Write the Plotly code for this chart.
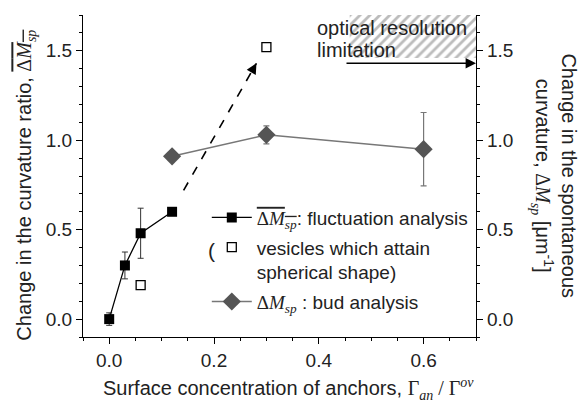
import plotly.graph_objects as go

# ---- data ----
fluct_x = [0.0, 0.03, 0.06, 0.12]
fluct_y = [0.0, 0.30, 0.48, 0.60]
fluct_err = [0.035, 0.075, 0.14, 0.0]

sph_x = [0.06, 0.30]
sph_y = [0.19, 1.52]

bud_x = [0.12, 0.30, 0.60]
bud_y = [0.91, 1.03, 0.95]
bud_err = [0.0, 0.05, 0.205]

trend_x = [0.142, 0.281]
trend_y = [0.72, 1.43]

limit_x = [0.459, 0.70, 0.70, 0.459]
limit_y = [1.46, 1.46, 1.70, 1.70]
limit_arrow_x = [0.45, 0.70]
limit_arrow_y = [1.43, 1.43]

x_ticks = [0.0, 0.2, 0.4, 0.6]
y_ticks = [0.0, 0.5, 1.0, 1.5]

FONT = "Liberation Sans, Arial, sans-serif"
SERIF = "Liberation Serif"
FS = 19
MSP = (f'<span style="font-family:{SERIF}">Δ<i>M</i><sub><i>sp</i></sub></span>')
MSP_OL = (f'<span style="font-family:{SERIF};text-decoration:overline">Δ<i>M</i>'
          f'<sub><i>sp</i></sub></span>')

fig = go.Figure()

# hatched region (optical resolution limitation)
fig.add_trace(go.Scatter(
    x=limit_x, y=limit_y, mode="lines", fill="toself",
    line=dict(width=0), fillcolor="rgba(0,0,0,0)",
    fillpattern=dict(shape="/", fgcolor="#7a7a7a", bgcolor="white", size=7, solidity=0.4),
    showlegend=False, hoverinfo="skip"))

# dashed trend arrow line
fig.add_trace(go.Scatter(
    x=trend_x, y=trend_y, mode="lines",
    line=dict(color="black", width=1.6, dash="dash"),
    showlegend=False, hoverinfo="skip"))

fig.add_trace(go.Scatter(
    x=fluct_x, y=fluct_y, mode="lines+markers",
    name=MSP_OL + ": fluctuation analysis",
    line=dict(color="black", width=1.3),
    marker=dict(symbol="square", size=10, color="black"),
    error_y=dict(type="data", array=fluct_err, color="#333", thickness=1, width=3),
    legendgroup="a"))

fig.add_trace(go.Scatter(
    x=sph_x, y=sph_y, mode="markers",
    name="vesicles which attain<br>spherical shape)",
    marker=dict(symbol="square-open", size=9, color="black", line=dict(width=1.3)),
    legendgroup="b"))

fig.add_trace(go.Scatter(
    x=bud_x, y=bud_y, mode="lines+markers", yaxis="y2",
    name=MSP + " : bud analysis",
    line=dict(color="#777", width=1.5),
    marker=dict(symbol="diamond", size=14, color="#555"),
    error_y=dict(type="data", array=bud_err, color="#777", thickness=1.2, width=3),
    legendgroup="c"))

axis_common = dict(
    showline=True, linecolor="black", linewidth=1.3,
    ticks="outside", ticklen=6, tickwidth=1.2, tickcolor="black",
    showgrid=False, zeroline=False,
    tickfont=dict(family=FONT, size=FS, color="#222"),
    tickformat=".1f",
)

fig.update_layout(
    width=584, height=404,
    margin=dict(l=83, r=108, t=15, b=67),
    paper_bgcolor="white", plot_bgcolor="white",
    font=dict(family=FONT, size=FS, color="#222"),
    xaxis=dict(range=[-0.05, 0.70], tickvals=x_ticks,
               minor=dict(dtick=0.05, ticks="outside", ticklen=3, tickcolor="black"),
               **axis_common),
    yaxis=dict(range=[-0.1, 1.7], tickvals=y_ticks,
               minor=dict(dtick=0.1, ticks="outside", ticklen=3, tickcolor="black"),
               **axis_common),
    yaxis2=dict(range=[-0.1, 1.7], tickvals=y_ticks, overlaying="y", side="right",
                minor=dict(dtick=0.1, ticks="outside", ticklen=3, tickcolor="black"),
                **axis_common),
    legend=dict(x=0.315, y=0.43, xanchor="left", yanchor="top",
                bgcolor="rgba(0,0,0,0)", borderwidth=0, valign="top",
                font=dict(family=FONT, size=FS, color="#222"),
                tracegroupgap=2, itemwidth=40),
    showlegend=True,
)

# axis titles
fig.add_annotation(
    text="Change in the curvature ratio, " + MSP_OL,
    xref="paper", yref="paper", x=-0.145, y=0.47, textangle=-90,
    showarrow=False, font=dict(size=FS + 1, color="#222"), xanchor="center", yanchor="middle")
fig.add_annotation(
    text="Change in the spontaneous<br>curvature, " + MSP + " [μm<sup>-1</sup>]",
    xref="paper", yref="paper", x=1.20, y=0.50, textangle=90,
    showarrow=False, font=dict(size=FS + 1, color="#222"), xanchor="center", yanchor="middle")
fig.add_annotation(
    text=("Surface concentration of anchors, "
          f'<span style="font-family:{SERIF}">Γ<sub><i>an</i></sub> / Γ<sup><i>ov</i></sup></span>'),
    xref="paper", yref="paper", x=0.524, y=-0.16,
    showarrow=False, font=dict(size=FS + 1, color="#222"), xanchor="center", yanchor="middle")

# legend bracket
fig.add_annotation(text="(", xref="paper", yref="paper", x=0.328, y=0.27,
                   showarrow=False, font=dict(size=21, color="#222"),
                   xanchor="center", yanchor="middle")

# optical resolution labels
fig.add_annotation(text="optical resolution", x=0.392, y=1.627, xref="x", yref="y",
                   showarrow=False, xanchor="left", yanchor="middle",
                   font=dict(size=20, color="#222"))
fig.add_annotation(text="limitation", x=0.392, y=1.503, xref="x", yref="y",
                   showarrow=False, xanchor="left", yanchor="middle",
                   font=dict(size=20, color="#222"))

# arrows
fig.add_annotation(x=limit_arrow_x[1], y=limit_arrow_y[1],
                   ax=limit_arrow_x[0], ay=limit_arrow_y[0],
                   xref="x", yref="y", axref="x", ayref="y",
                   showarrow=True, arrowhead=2, arrowsize=1.3, arrowwidth=1.6,
                   arrowcolor="black", text="", standoff=0)
fig.add_annotation(x=trend_x[1], y=trend_y[1],
                   ax=-5, ay=8.7, xref="x", yref="y",
                   showarrow=True, arrowhead=2, arrowsize=1.3, arrowwidth=1.6,
                   arrowcolor="black", text="", standoff=0)

fig.write_html("out.html")
